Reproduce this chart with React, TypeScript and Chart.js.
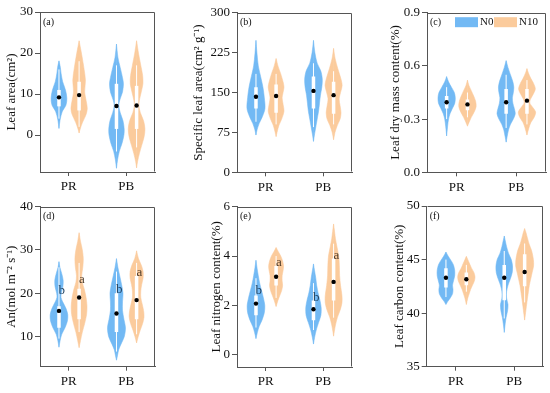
import React, { useEffect, useRef } from 'react';
import { Chart, registerables } from 'chart.js';

Chart.register(...registerables);

type Profile = [number, number][]; // [value, violin density (half width)]

const categories = ['PR', 'PB'];
const seriesNames = ['N0', 'N10'];

// ---------- (a) Leaf area ----------
const leafAreaPR_N0: Profile = [[18.1, 0], [16.5, 1.5], [15, 2.3], [13, 4], [11, 7], [9, 8.5], [7.3, 7.5], [5.7, 3.5], [3.7, 1.2], [1.6, 0]];
const leafAreaPR_N10: Profile = [[23, 0], [20, 2.5], [16.6, 5], [13.4, 6.8], [10.5, 6], [8.5, 7.5], [6.5, 8.8], [5, 7.5], [3, 3.5], [1.5, 1.2], [0.5, 0]];
const leafAreaPB_N0: Profile = [[22.2, 0], [19, 1.5], [16.5, 4], [14, 6.5], [12.5, 7.5], [10.5, 6.5], [8.5, 3.5], [7.2, 2.5], [5.5, 4], [3.5, 7], [1.5, 8.3], [0, 8], [-2, 6], [-4, 3], [-6, 1.2], [-8.1, 0]];
const leafAreaPB_N10: Profile = [[23, 0], [20, 2], [17, 4.5], [14.5, 6.5], [12.5, 6.8], [10.5, 5], [8.5, 3], [7.2, 2.5], [5.5, 4], [3.5, 7.5], [1.5, 9], [-0.5, 8], [-2.5, 5.5], [-4.5, 3], [-6.5, 1], [-8, 0]];
const leafAreaMeans = [9.2, 9.75, 7.1, 7.2];
const leafAreaBoxes = [[7, 11, 4, 16], [6, 13, 2, 18], [1.5, 12.5, -4, 17], [1.5, 12, -3, 17]];
const leafAreaTicks = [0, 10, 20, 30];

// ---------- (b) Specific leaf area ----------
const slaPR_N0: Profile = [[248, 0], [225, 1], [200, 2.5], [180, 5], [160, 7.5], [140, 9], [120, 9.7], [105, 7], [92, 3.5], [80, 1.2], [70, 0]];
const slaPR_N10: Profile = [[214, 0], [200, 2], [185, 5], [170, 7.5], [160, 8.5], [150, 7.5], [140, 6.5], [128, 7.5], [115, 8.5], [100, 6], [88, 3], [75, 1], [67, 0]];
const slaPB_N0: Profile = [[248, 0], [225, 1.5], [205, 4], [190, 8], [175, 9.5], [160, 9], [145, 7.5], [130, 6.5], [115, 5.5], [100, 4], [85, 2.5], [70, 1], [58, 0]];
const slaPB_N10: Profile = [[233, 0], [215, 1.5], [195, 4.5], [175, 8], [163, 9.2], [150, 7.5], [138, 6], [125, 7], [112, 8], [100, 7], [88, 4], [75, 1.5], [61, 0]];
const slaMeans = [142, 143.5, 153, 145];
const slaBoxes = [[120, 160, 95, 185], [112, 165, 90, 185], [120, 180, 85, 205], [110, 170, 90, 190]];
const slaTicks = [0, 75, 150, 225, 300];

// ---------- (c) Leaf dry mass content ----------
const ldmcPR_N0: Profile = [[0.54, 0], [0.51, 2], [0.48, 5], [0.45, 8], [0.42, 9], [0.39, 8.5], [0.36, 6], [0.33, 3.5], [0.30, 2], [0.26, 1], [0.205, 0]];
const ldmcPR_N10: Profile = [[0.52, 0], [0.49, 1.5], [0.46, 4], [0.43, 6.5], [0.40, 8.5], [0.37, 9], [0.34, 7], [0.31, 4], [0.28, 1.5], [0.26, 0]];
const ldmcPB_N0: Profile = [[0.63, 0], [0.59, 2], [0.55, 4.5], [0.51, 7], [0.48, 8], [0.45, 7.5], [0.42, 6.5], [0.39, 7], [0.36, 8.5], [0.33, 9.5], [0.30, 7.5], [0.27, 4.5], [0.24, 2.5], [0.20, 1], [0.17, 0]];
const ldmcPB_N10: Profile = [[0.585, 0], [0.56, 1.5], [0.53, 4], [0.50, 7], [0.47, 8.7], [0.44, 6.5], [0.41, 3.5], [0.39, 3], [0.37, 5.5], [0.34, 9], [0.31, 7.5], [0.28, 4], [0.25, 2], [0.21, 0]];
const ldmcMeans = [0.395, 0.383, 0.395, 0.404];
const ldmcBoxes = [[0.36, 0.43, 0.30, 0.48], [0.35, 0.41, 0.31, 0.45], [0.33, 0.47, 0.25, 0.55], [0.33, 0.47, 0.27, 0.52]];
const ldmcTicks = [0, 0.3, 0.6, 0.9];

// ---------- (d) An ----------
const anPR_N0: Profile = [[27.3, 0], [26, 1], [24.5, 3], [23, 4.5], [21.5, 4.2], [20, 2.5], [19, 2.2], [18, 4], [16.5, 7.5], [15, 9.5], [13.5, 9], [12, 6.5], [10.5, 3], [9, 1.2], [7.5, 0]];
const anPR_N10: Profile = [[34, 0], [32, 1.5], [30, 3.5], [28, 4.5], [26, 4], [24, 2.8], [22.5, 3.5], [21, 5.5], [19, 7.5], [17, 8.5], [15, 8], [13, 6], [11, 3.5], [9, 1.5], [7.4, 0]];
const anPB_N0: Profile = [[28, 0], [26, 1.5], [24, 3.5], [22, 5.5], [20, 7], [18, 6.5], [16, 6.5], [14, 8], [12, 9.7], [10, 8.5], [8.5, 5.5], [7, 2.5], [5.5, 1], [4.5, 0]];
const anPB_N10: Profile = [[29.8, 0], [28, 2], [26.5, 5], [25, 7], [23.5, 7], [22, 5.5], [20.5, 4.5], [19, 4.5], [17.5, 6], [16, 7.5], [14.5, 8], [13, 6.5], [11.5, 4], [10, 1.8], [8.5, 0]];
const anMeans = [15.9, 19.0, 15.3, 18.4];
const anBoxes = [[12, 17, 9.5, 26], [14, 21, 11, 27], [11, 20, 6.5, 25], [14, 24, 10.5, 27]];
const anTicks = [10, 20, 30, 40];
const anLetters = ['b', 'a', 'b', 'a'];
const anLetterY = [20.7, 23.2, 20.9, 24.7];

// ---------- (e) Leaf nitrogen content ----------
const lncPR_N0: Profile = [[3.83, 0], [3.5, 1.2], [3.2, 2.5], [2.9, 4], [2.6, 6], [2.3, 8], [2.0, 9.5], [1.7, 9], [1.4, 6.5], [1.15, 3.5], [0.9, 1.5], [0.65, 0]];
const lncPR_N10: Profile = [[4.35, 0], [4.2, 2], [4.0, 5], [3.8, 7], [3.6, 8], [3.4, 7.5], [3.2, 6.5], [3.0, 6.5], [2.8, 7], [2.6, 6], [2.4, 4], [2.2, 2], [1.95, 0]];
const lncPB_N0: Profile = [[3.68, 0], [3.4, 1.2], [3.1, 2.5], [2.8, 3.5], [2.5, 5], [2.2, 7], [1.9, 8.3], [1.6, 8], [1.3, 5.5], [1.0, 3], [0.7, 1.2], [0.43, 0]];
const lncPB_N10: Profile = [[5.3, 0], [5.0, 1], [4.7, 2], [4.4, 3.5], [4.0, 5.5], [3.6, 6.2], [3.2, 6.5], [2.8, 7.5], [2.4, 9], [2.1, 9], [1.8, 7], [1.5, 4], [1.2, 2], [0.95, 0.8], [0.75, 0]];
const lncMeans = [2.07, 3.16, 1.84, 2.95];
const lncBoxes = [[1.6, 2.4, 1.1, 3.1], [2.8, 3.6, 2.3, 4.0], [1.4, 2.2, 1.0, 2.9], [2.2, 3.9, 1.5, 4.5]];
const lncTicks = [0, 2, 4, 6];
const lncLetters = ['b', 'a', 'b', 'a'];
const lncLetterY = [2.59, 3.72, 2.32, 4.0];

// ---------- (f) Leaf carbon content ----------
const lccPR_N0: Profile = [[45.7, 0], [45.3, 2.5], [44.9, 5.5], [44.5, 8], [44.0, 9.3], [43.5, 9.3], [43.0, 8], [42.6, 7], [42.2, 7.5], [41.8, 7], [41.4, 4.5], [41.1, 2], [40.8, 0]];
const lccPR_N10: Profile = [[45.3, 0], [45.0, 1.5], [44.6, 3.5], [44.2, 5.5], [43.8, 8], [43.4, 9.2], [43.0, 8.5], [42.6, 6.5], [42.2, 4.5], [41.8, 3], [41.4, 1.5], [40.8, 0]];
const lccPB_N0: Profile = [[47.2, 0], [46.8, 1], [46.2, 2.5], [45.6, 4.5], [45.0, 7.5], [44.4, 8.8], [43.8, 8.5], [43.2, 6.5], [42.6, 4], [42.0, 2.5], [41.4, 2.5], [40.8, 4], [40.2, 3.5], [39.6, 2], [39.0, 1], [38.2, 0]];
const lccPB_N10: Profile = [[47.9, 0], [47.5, 1.5], [47.0, 3], [46.4, 5], [45.8, 7.5], [45.0, 9.3], [44.4, 9.5], [43.8, 8], [43.2, 6.5], [42.6, 5], [42.0, 4], [41.4, 3], [40.6, 1.8], [39.9, 0.8], [39.35, 0]];
const lccMeans = [43.3, 43.16, 43.3, 43.84];
const lccBoxes = [[42.4, 44.2, 41.5, 45], [42.6, 43.8, 42, 44.5], [41.2, 44.5, 39.5, 45.8], [42.5, 45.5, 41, 46.5]];
const lccTicks = [35, 40, 45, 50];

// ---------- styling / layout ----------
const FONT = "'Liberation Serif', 'Times New Roman', serif";
const AXIS_COLOR = '#555555';
const TEXT_COLOR = '#111111';
const FILL_COLORS = ['#72b9f4', '#fbcb9c'];
const EDGE_COLORS = ['rgba(114,185,244,0.55)', 'rgba(251,203,156,0.55)'];
const LETTER_COLORS = ['#1d3f5e', '#4d3b2a'];
const OFFSETS = [-0.17, 0.18];
const VIOLIN_SCALE = 1 / 62;

interface Frame { x: number; y: number; w: number; h: number; padL: number; yW: number; padR: number; padT: number; xH: number; }
interface PanelSpec {
  tag: string; title: string; yMin: number; yMax: number; ticks: number[]; decimals: number;
  violins: Profile[]; means: number[]; boxes: number[][];
  letters?: string[]; letterY?: number[]; legend?: boolean; frame: Frame;
}

const panels: PanelSpec[] = [
  { tag: '(a)', title: 'Leaf area(cm²)', yMin: -9, yMax: 30, ticks: leafAreaTicks, decimals: 0,
    violins: [leafAreaPR_N0, leafAreaPR_N10, leafAreaPB_N0, leafAreaPB_N10], means: leafAreaMeans, boxes: leafAreaBoxes,
    frame: { x: 0, y: 0, w: 180, h: 196, padL: 0, yW: 40, padR: 25, padT: 12, xH: 24 } },
  { tag: '(b)', title: 'Specific leaf area(cm² g⁻¹)', yMin: 0, yMax: 300, ticks: slaTicks, decimals: 0,
    violins: [slaPR_N0, slaPR_N10, slaPB_N0, slaPB_N10], means: slaMeans, boxes: slaBoxes,
    frame: { x: 180, y: 0, w: 180, h: 196, padL: 6.5, yW: 50.5, padR: 8, padT: 12.7, xH: 23.7 } },
  { tag: '(c)', title: 'Leaf dry mass content(%)', yMin: 0, yMax: 0.9, ticks: ldmcTicks, decimals: 1,
    violins: [ldmcPR_N0, ldmcPR_N10, ldmcPB_N0, ldmcPB_N10], means: ldmcMeans, boxes: ldmcBoxes, legend: true,
    frame: { x: 360, y: 0, w: 190, h: 196, padL: 24, yW: 43, padR: 3, padT: 12.7, xH: 23.7 } },
  { tag: '(d)', title: 'An(mol m⁻² s⁻¹)', yMin: 3, yMax: 40, ticks: anTicks, decimals: 0,
    violins: [anPR_N0, anPR_N10, anPB_N0, anPB_N10], means: anMeans, boxes: anBoxes, letters: anLetters, letterY: anLetterY,
    frame: { x: 0, y: 196, w: 180, h: 197, padL: 0, yW: 40, padR: 25, padT: 10.7, xH: 26.3 } },
  { tag: '(e)', title: 'Leaf nitrogen content(%)', yMin: -0.5, yMax: 6, ticks: lncTicks, decimals: 0,
    violins: [lncPR_N0, lncPR_N10, lncPB_N0, lncPB_N10], means: lncMeans, boxes: lncBoxes, letters: lncLetters, letterY: lncLetterY,
    frame: { x: 180, y: 196, w: 180, h: 197, padL: 25, yW: 32, padR: 8, padT: 10.7, xH: 26 } },
  { tag: '(f)', title: 'Leaf carbon content(%)', yMin: 35, yMax: 50, ticks: lccTicks, decimals: 0,
    violins: [lccPR_N0, lccPR_N10, lccPB_N0, lccPB_N10], means: lccMeans, boxes: lccBoxes,
    frame: { x: 360, y: 196, w: 190, h: 197, padL: 28, yW: 38.7, padR: 6.7, padT: 10, xH: 26.3 } },
];

function centerOf(i: number) {
  return Math.floor(i / 2) + 1 + OFFSETS[i % 2];
}

function halfViolin(profile: Profile, cx: number, sign: number) {
  return [...profile].reverse().map(([y, d]) => ({ x: cx + sign * d * VIOLIN_SCALE, y }));
}

function makeDecor(spec: PanelSpec) {
  return {
    id: 'decor',
    afterDatasetsDraw(chart: any) {
      const { ctx, chartArea: a, scales } = chart;
      ctx.save();
      if (spec.letters && spec.letterY) {
        ctx.font = `13px ${FONT}`;
        ctx.textAlign = 'center';
        ctx.textBaseline = 'middle';
        spec.letters.forEach((t, i) => {
          ctx.fillStyle = LETTER_COLORS[i % 2];
          ctx.fillText(t, scales.x.getPixelForValue(centerOf(i) + 0.05), scales.y.getPixelForValue(spec.letterY![i]));
        });
      }
      ctx.fillStyle = TEXT_COLOR;
      ctx.font = `10px ${FONT}`;
      ctx.textAlign = 'left';
      ctx.textBaseline = 'middle';
      ctx.fillText(spec.tag, a.left + 3, a.top + 10);
      if (spec.legend) {
        const items = [28, 67];
        seriesNames.forEach((name, i) => {
          ctx.fillStyle = FILL_COLORS[i];
          ctx.fillRect(a.left + items[i], a.top + 4.5, 23, 10);
          ctx.fillStyle = TEXT_COLOR;
          ctx.font = `11px ${FONT}`;
          ctx.fillText(name, a.left + items[i] + 25, a.top + 9.8);
        });
      }
      ctx.strokeStyle = AXIS_COLOR;
      ctx.lineWidth = 1;
      const t = Math.round(a.top) + 0.5;
      const r = Math.round(a.right) - 0.5;
      const l = Math.round(a.left) + 0.5;
      const b = Math.round(a.bottom) - 0.5;
      ctx.beginPath();
      ctx.moveTo(l, t);
      ctx.lineTo(r, t);
      ctx.lineTo(r, b);
      ctx.stroke();
      ctx.restore();
    },
  };
}

function Panel({ spec }: { spec: PanelSpec }) {
  const ref = useRef<HTMLCanvasElement>(null);
  useEffect(() => {
    const canvas = ref.current!;
    const f = spec.frame;
    const datasets: any[] = [];
    spec.violins.forEach((profile, i) => {
      const cx = centerOf(i);
      [1, -1].forEach((sign) => {
        datasets.push({
          data: halfViolin(profile, cx, sign),
          backgroundColor: FILL_COLORS[i % 2],
          borderColor: EDGE_COLORS[i % 2],
          borderWidth: 1,
          fill: { value: cx - sign * 0.004 },
          tension: 0.3,
          pointRadius: 0,
          order: 3,
        });
      });
      const [q1, q3, lo, hi] = spec.boxes[i];
      datasets.push({
        data: [{ x: cx, y: lo }, { x: cx, y: hi }],
        borderColor: '#ffffff', borderWidth: 1, pointRadius: 0, fill: false, tension: 0, order: 2,
      });
      datasets.push({
        data: [{ x: cx, y: q1 }, { x: cx, y: q3 }],
        borderColor: '#ffffff', borderWidth: 3.5, borderCapStyle: 'butt', pointRadius: 0, fill: false, tension: 0, order: 1,
      });
      datasets.push({
        data: [{ x: cx, y: spec.means[i] }],
        showLine: false, pointRadius: 2.2, pointBackgroundColor: '#000000', pointBorderWidth: 0, fill: false, order: 0,
      });
    });

    const chart = new Chart(canvas, {
      type: 'line',
      data: { datasets },
      options: {
        animation: false,
        responsive: false,
        maintainAspectRatio: false,
        events: [],
        indexAxis: 'y',
        layout: { padding: { left: f.padL, right: f.padR, top: f.padT, bottom: 0 } },
        plugins: { legend: { display: false }, tooltip: { enabled: false } },
        scales: {
          x: {
            type: 'linear', min: 0.5, max: 2.5,
            afterBuildTicks: (s: any) => { s.ticks = categories.map((_, i) => ({ value: i + 1 })); },
            afterFit: (s: any) => { s.height = f.xH; },
            ticks: {
              callback: (v: any) => categories[Math.round(Number(v)) - 1],
              font: { family: FONT, size: 13 }, color: TEXT_COLOR, padding: 3, maxRotation: 0, autoSkip: false,
            },
            grid: { drawOnChartArea: false, drawTicks: true, tickLength: 4, color: AXIS_COLOR },
            border: { color: AXIS_COLOR, width: 1 },
          },
          y: {
            type: 'linear', min: spec.yMin, max: spec.yMax,
            afterBuildTicks: (s: any) => { s.ticks = spec.ticks.map((v) => ({ value: v })); },
            afterFit: (s: any) => { s.width = f.yW; },
            ticks: {
              callback: (v: any) => Number(v).toFixed(spec.decimals),
              font: { family: FONT, size: 13 }, color: TEXT_COLOR, padding: 2,
            },
            grid: { drawOnChartArea: false, drawTicks: true, tickLength: 5, color: AXIS_COLOR },
            border: { color: AXIS_COLOR, width: 1 },
            title: { display: true, text: spec.title, font: { family: FONT, size: 13 }, color: TEXT_COLOR, padding: { top: 4, bottom: 4 } },
          },
        },
      } as any,
      plugins: [makeDecor(spec)],
    });
    return () => chart.destroy();
  }, [spec]);
  const f = spec.frame;
  return (
    <canvas
      ref={ref}
      width={f.w}
      height={f.h}
      style={{ position: 'absolute', left: f.x, top: f.y, width: f.w, height: f.h }}
    />
  );
}

export default function App() {
  return (
    <div style={{ position: 'absolute', left: 0, top: 0, width: 550, height: 393, background: '#ffffff', overflow: 'hidden' }}>
      {panels.map((p) => (
        <Panel key={p.tag} spec={p} />
      ))}
    </div>
  );
}
